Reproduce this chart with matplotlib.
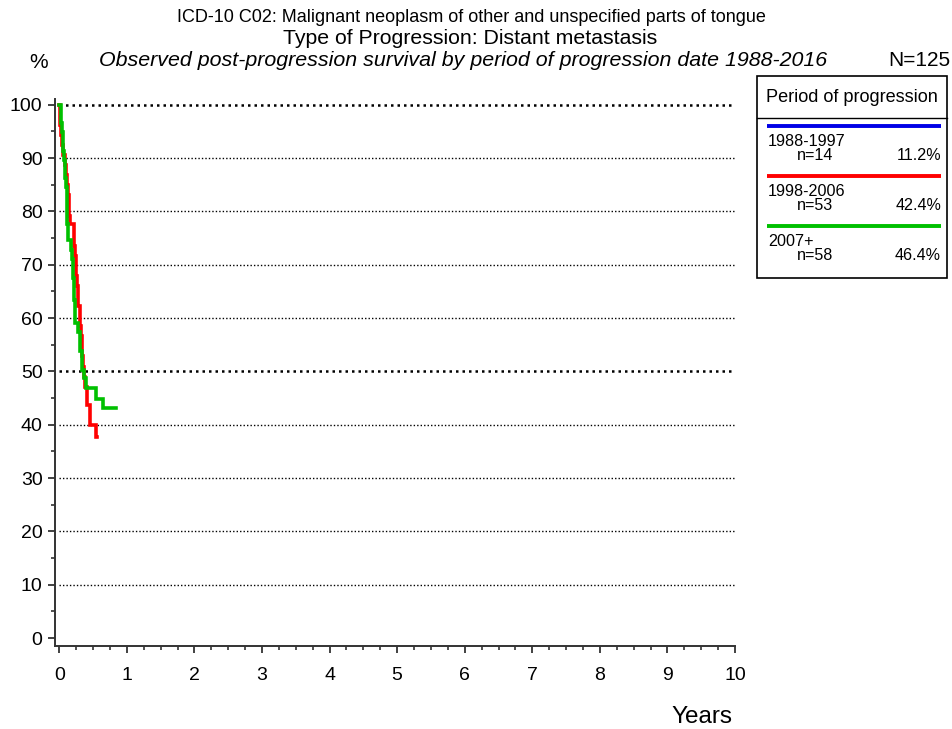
import matplotlib
matplotlib.use("Agg")
import matplotlib.pyplot as plt
from matplotlib.ticker import MultipleLocator

plt.rcParams['font.family'] = ['Liberation Sans', 'DejaVu Sans']

W, H = 952, 729

# Kaplan-Meier style step curves (years, % surviving)
t_1988 = []
s_1988 = []

t_1998 = [0.00, 0.01, 0.015, 0.02, 0.04, 0.06, 0.08, 0.10, 0.12, 0.13, 0.14, 0.15,
          0.16, 0.21, 0.22, 0.23, 0.24, 0.25, 0.26, 0.27, 0.28, 0.30, 0.31, 0.32,
          0.33, 0.34, 0.35, 0.36, 0.38, 0.405, 0.45, 0.55, 0.56]
s_1998 = [100.0, 98.1, 96.2, 94.3, 92.5, 90.6, 88.7, 86.8, 84.9, 83.0, 81.1, 79.2,
          77.7, 75.5, 73.6, 71.7, 69.8, 67.9, 66.0, 64.2, 62.3, 60.4, 58.5, 56.6,
          54.7, 52.8, 50.9, 49.0, 47.1, 43.7, 39.9, 37.7, 37.7]

t_2007 = [0.00, 0.02, 0.03, 0.04, 0.05, 0.06, 0.07, 0.08, 0.09, 0.10, 0.11, 0.12,
          0.13, 0.18, 0.19, 0.20, 0.21, 0.22, 0.23, 0.28, 0.30, 0.31, 0.33, 0.34,
          0.36, 0.40, 0.55, 0.65, 0.84]
s_2007 = [100.0, 98.3, 96.6, 94.8, 93.1, 91.4, 89.7, 87.9, 86.2, 84.5, 81.0, 77.6,
          74.6, 72.8, 71.1, 67.6, 65.2, 63.4, 59.0, 57.3, 55.5, 53.8, 52.0, 50.2,
          48.7, 46.8, 44.9, 43.2, 43.2]

periods = ["1988-1997", "1998-2006", "2007+"]
counts = [14, 53, 58]
shares = ["11.2%", "42.4%", "46.4%"]
colors = ["#0000e6", "#ff0000", "#00c000"]
series = [(t_1988, s_1988), (t_1998, s_1998), (t_2007, s_2007)]

fig = plt.figure(figsize=(W / 100, H / 100), dpi=100)


def fx(px):
    return px / W


def fy(py):
    return 1 - py / H


ax = fig.add_axes([fx(55), fy(646), fx(735) - fx(55), fy(99.4) - fy(646)])
ax.set_xlim(-0.064, 10)
ax.set_ylim(-1.5, 101)

for (t, s), c in zip(series, colors):
    if t:
        ax.step(t, s, where='post', color=c, lw=2.6, solid_joinstyle='miter', zorder=3)

# horizontal reference lines
for yv in range(10, 101, 10):
    bold = yv in (50, 100)
    ax.plot([0, 10], [yv, yv], color='black', lw=1.8 if bold else 1.0,
            linestyle=(0, (1, 1.6)) if bold else (0, (1, 1.5)), zorder=1)

ax.spines['top'].set_visible(False)
ax.spines['right'].set_visible(False)
for sp in ('left', 'bottom'):
    ax.spines[sp].set_color('#333333')
    ax.spines[sp].set_linewidth(1.4)
ax.spines['bottom'].set_bounds(-0.064, 10)

ax.xaxis.set_major_locator(MultipleLocator(1))
ax.xaxis.set_minor_locator(MultipleLocator(0.25))
ax.yaxis.set_major_locator(MultipleLocator(10))
ax.yaxis.set_minor_locator(MultipleLocator(5))
ax.tick_params(axis='both', which='major', length=5, width=1.3, color='#333333',
               labelsize=14, direction='out')
ax.tick_params(axis='both', which='minor', length=3, width=1.2, color='#333333',
               direction='out')
ax.tick_params(axis='x', which='major', pad=10)
ax.tick_params(axis='y', which='major', pad=4)

# titles
fig.text(fx(471), fy(17), "ICD-10 C02: Malignant neoplasm of other and unspecified parts of tongue",
         ha='center', va='center', fontsize=13)
fig.text(fx(470), fy(38), "Type of Progression: Distant metastasis",
         ha='center', va='center', fontsize=15.3)
fig.text(fx(463), fy(61), "Observed post-progression survival by period of progression date 1988-2016",
         ha='center', va='center', fontsize=15.4, style='italic')
fig.text(fx(39), fy(63), "%", ha='center', va='center', fontsize=15)
fig.text(fx(919), fy(61), "N=125", ha='center', va='center', fontsize=15)
fig.text(fx(732), fy(717), "Years", ha='right', va='center', fontsize=17.5)

# legend panel drawn in pixel space
lg = fig.add_axes([0, 0, 1, 1], facecolor='none')
lg.set_xlim(0, W)
lg.set_ylim(H, 0)
lg.axis('off')
lg.add_patch(plt.Rectangle((757, 76), 190, 202, fill=False, ec='black', lw=1.2))
lg.plot([757, 947], [118, 118], color='black', lw=1.0)
lg.text(852, 97, "Period of progression", ha='center', va='center', fontsize=13.1)
for i, (p, n, sh, c) in enumerate(zip(periods, counts, shares, colors)):
    y0 = 126 + 50 * i
    lg.plot([767, 941], [y0, y0], color=c, lw=2.8, solid_capstyle='butt')
    lg.text(768, y0 + 15, p, ha='left', va='center', fontsize=11.6)
    lg.text(797, y0 + 29, f"n={n}", ha='left', va='center', fontsize=11.6)
    lg.text(941, y0 + 29, sh, ha='right', va='center', fontsize=11.6)

fig.savefig("out.png", dpi=100)
